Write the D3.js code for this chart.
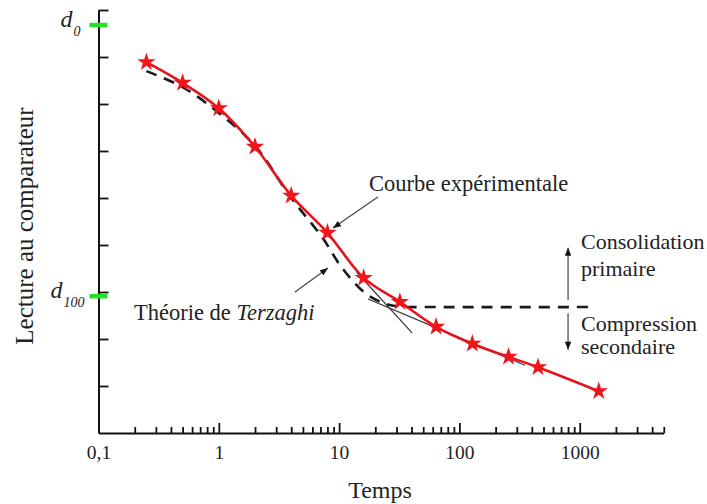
<!DOCTYPE html>
<html>
<head>
<meta charset="utf-8">
<script src="https://cdn.jsdelivr.net/npm/d3@7"></script>
<style>
  body { margin: 0; background: #fff; }
  text { font-family: "Liberation Serif", "Times New Roman", serif; fill: #222; }
</style>
</head>
<body>
<div id="chart"></div>
<script>
// experimental readings (time in min, dial reading in arbitrary units, 0 at top)
var times    = [0.25, 0.5, 1, 2, 4, 8, 16, 32, 64, 128, 256, 450, 1440];
var readings = [1.11, 1.55, 2.09, 2.91, 3.95, 4.74, 5.70, 6.21, 6.74, 7.10, 7.38, 7.60, 8.11];

// Terzaghi theoretical curve
var terzTimes    = [0.25, 0.5, 1, 2, 4, 7.2, 10.6, 16.4, 24, 32, 64, 1340];
var terzReadings = [1.30, 1.64, 2.19, 2.89, 4.00, 4.83, 5.49, 6.02, 6.245, 6.31, 6.32, 6.32];

// tangents (construction lines)
var tangentSteep   = [[14, 5.58], [40.4, 6.87]];
var tangentShallow = [[17.4, 6.15], [351, 7.56]];

// reference levels on the reading axis
var refLabels = ["0", "100"];
var refValues = [0.32, 6.09];

var majorTicks = [0.1, 1, 10, 100, 1000];
var yTicks = [0, 1, 2, 3, 4, 5, 6, 7, 8];

var W = 707, H = 504;

var svg = d3.select("#chart").append("svg")
  .attr("width", W)
  .attr("height", H);

svg.append("rect").attr("width", W).attr("height", H).attr("fill", "#fff");

var x = d3.scaleLog().domain([0.1, 5000]).range([98.5, 663.8]);
var y = d3.scaleLinear().domain([0, 9]).range([10, 433]);

// minor ticks on x
var minorTicks = [];
for (var p = -1; p <= 3; p++) {
  for (var m = 2; m <= 9; m++) {
    var v = m * Math.pow(10, p);
    if (v <= 5000) minorTicks.push(v);
  }
}

var defs = svg.append("defs");
defs.append("marker")
  .attr("id", "head")
  .attr("viewBox", "0 0 10 10")
  .attr("refX", 10).attr("refY", 5)
  .attr("markerWidth", 10).attr("markerHeight", 8)
  .attr("markerUnits", "userSpaceOnUse")
  .attr("orient", "auto")
  .append("path")
  .attr("d", "M0,1 L10,5 L0,9 Z")
  .attr("fill", "#111");

// x axis: minor ticks
svg.append("g")
  .attr("transform", "translate(0," + y(9) + ")")
  .call(d3.axisBottom(x).tickValues(minorTicks).tickSizeInner(-6).tickSizeOuter(0).tickFormat(""))
  .call(function (g) {
    g.select(".domain").remove();
    g.selectAll("line").attr("stroke", "#111").attr("stroke-width", 1.8);
  });

// x axis: major ticks + labels
svg.append("g")
  .attr("transform", "translate(0," + y(9) + ")")
  .call(d3.axisBottom(x).tickValues(majorTicks).tickSizeInner(-10).tickSizeOuter(0).tickPadding(12)
    .tickFormat(function (d) { return String(d).replace(".", ","); }))
  .call(function (g) {
    g.select(".domain").attr("stroke", "#111").attr("stroke-width", 2);
    g.selectAll("line").attr("stroke", "#111").attr("stroke-width", 1.8);
    g.selectAll("text").attr("font-size", 19.5).attr("font-family", "Liberation Serif").attr("fill", "#222");
  });

// y axis
svg.append("g")
  .attr("transform", "translate(" + x(0.1) + ",0)")
  .call(d3.axisLeft(y).tickValues(yTicks).tickSizeInner(-10).tickSizeOuter(0).tickFormat(""))
  .call(function (g) {
    g.select(".domain").attr("stroke", "#111").attr("stroke-width", 2);
    g.selectAll("line").attr("stroke", "#111").attr("stroke-width", 1.8);
  });

// reference marks d0 / d100
refValues.forEach(function (v, i) {
  svg.append("line")
    .attr("x1", x(0.1) - 9).attr("x2", x(0.1) + 9)
    .attr("y1", y(v)).attr("y2", y(v))
    .attr("stroke", "#22e022").attr("stroke-width", 4.5);
  var t = svg.append("text")
    .attr("x", x(0.1) - (i === 0 ? 38 : 48))
    .attr("y", y(v) + 2)
    .attr("font-size", 24)
    .attr("font-style", "italic");
  t.append("tspan").text("d");
  t.append("tspan").attr("font-size", 14).attr("dy", 9).attr("dx", 1).text(refLabels[i]);
});

// tangent lines
[tangentSteep, tangentShallow].forEach(function (seg) {
  svg.append("line")
    .attr("x1", x(seg[0][0])).attr("y1", y(seg[0][1]))
    .attr("x2", x(seg[1][0])).attr("y2", y(seg[1][1]))
    .attr("stroke", "#333").attr("stroke-width", 1.2);
});

var line = d3.line()
  .x(function (d) { return x(d[0]); })
  .y(function (d) { return y(d[1]); })
  .curve(d3.curveCatmullRom.alpha(0.5));

// Terzaghi dashed curve
var terzData = terzTimes.map(function (t, i) { return [t, terzReadings[i]]; });
svg.append("path")
  .datum(terzData)
  .attr("d", line)
  .attr("fill", "none")
  .attr("stroke", "#1a1a1a")
  .attr("stroke-width", 2.6)
  .attr("stroke-dasharray", "11,8");

// experimental curve
var expData = times.map(function (t, i) { return [t, readings[i]]; });
svg.append("path")
  .datum(expData)
  .attr("d", line)
  .attr("fill", "none")
  .attr("stroke", "#e3141b")
  .attr("stroke-width", 2.6);

svg.selectAll(".star")
  .data(expData)
  .enter()
  .append("path")
  .attr("class", "star")
  .attr("transform", function (d) { return "translate(" + x(d[0]) + "," + y(d[1]) + ")"; })
  .attr("d", d3.symbol().type(d3.symbolStar).size(105))
  .attr("fill", "#f0141b");

// annotations: arrows
function arrow(a, b) {
  svg.append("line")
    .attr("x1", x(a[0])).attr("y1", y(a[1]))
    .attr("x2", x(b[0])).attr("y2", y(b[1]))
    .attr("stroke", "#444").attr("stroke-width", 1.2)
    .attr("marker-end", "url(#head)");
}
arrow([21.0, 3.98], [8.89, 4.64]);
arrow([4.30, 6.0], [8.09, 5.49]);
arrow([800, 6.17], [800, 5.06]);
arrow([800, 6.45], [800, 7.23]);

// annotation texts
svg.append("text").attr("x", 369).attr("y", 191).attr("font-size", 22.5).text("Courbe expérimentale");

var tz = svg.append("text").attr("x", 134).attr("y", 320).attr("font-size", 22.5);
tz.append("tspan").text("Théorie de ");
tz.append("tspan").attr("font-style", "italic").text("Terzaghi");

svg.append("text").attr("x", 581).attr("y", 249).attr("font-size", 22).text("Consolidation");
svg.append("text").attr("x", 581).attr("y", 276).attr("font-size", 22).text("primaire");
svg.append("text").attr("x", 581).attr("y", 331).attr("font-size", 22).text("Compression");
svg.append("text").attr("x", 581).attr("y", 354).attr("font-size", 22).text("secondaire");

// axis titles
svg.append("text")
  .attr("x", 380).attr("y", 498)
  .attr("text-anchor", "middle")
  .attr("font-size", 24)
  .text("Temps");

svg.append("text")
  .attr("transform", "translate(33," + 226 + ") rotate(-90)")
  .attr("text-anchor", "middle")
  .attr("font-size", 25)
  .text("Lecture au comparateur");
</script>
</body>
</html>
